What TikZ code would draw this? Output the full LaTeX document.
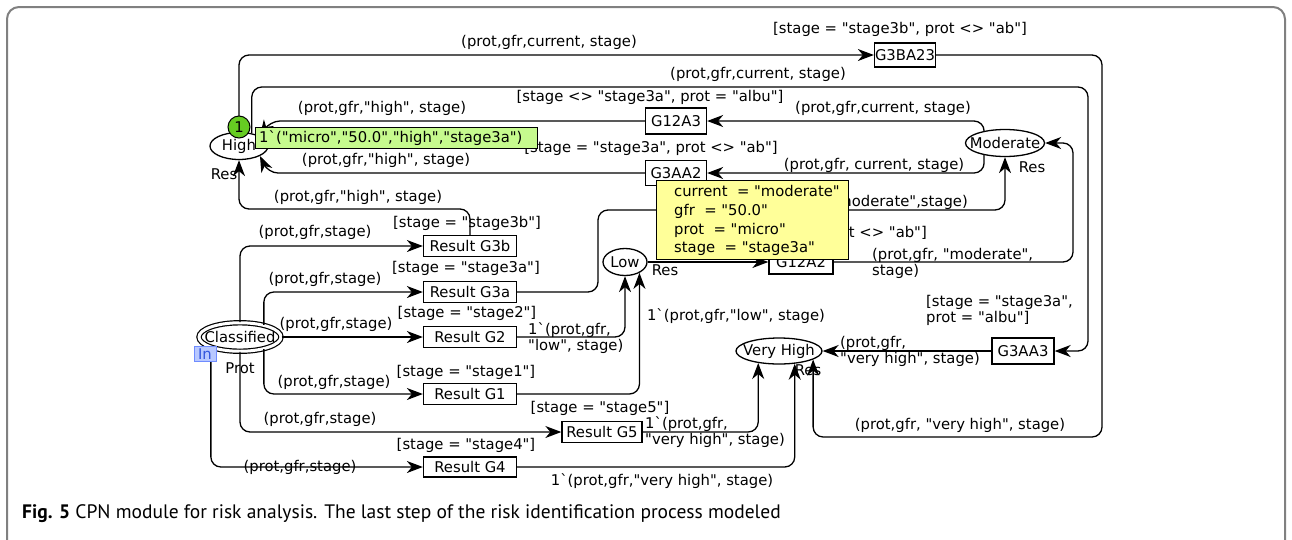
\documentclass[tikz,border=0pt]{standalone}
\usepackage{fontspec}
\setmainfont{DejaVu Sans}
\newfontfamily\lab{DejaVu Sans}[Ligatures=TeXOff]
\newfontfamily\capfont{PT Sans}
\usetikzlibrary{shapes.geometric,arrows.meta}
\definecolor{tokbox}{HTML}{C6FA8E}
\definecolor{tokcirc}{HTML}{66CC22}
\definecolor{bindy}{HTML}{FFFF99}
\definecolor{infill}{HTML}{B8C8FF}
\definecolor{indraw}{HTML}{6F8CFF}
\definecolor{intext}{HTML}{3355DD}
\definecolor{framec}{HTML}{808080}
\newcommand\lbf{\lab\fontsize{14.8}{16.5}\selectfont}
\tikzset{
  every label/.style={font=\lbf,inner sep=0pt},
  place/.style={ellipse,draw,line width=1.3pt,inner sep=0pt,font=\lbf},
  trans/.style={rectangle,draw,line width=1.3pt,inner sep=0pt,font=\lbf,fill=white},
  arc/.style={draw,line width=1.3pt,rounded corners=10pt,-{Stealth[length=16pt,width=12pt,inset=5pt]}},
  lbl/.style={inner sep=0pt,font=\lbf,align=left},
}
\begin{document}
\begin{tikzpicture}[x=1pt,y=-1pt]
\useasboundingbox (0,0) rectangle (1292,539);
\draw[framec,line width=2pt,rounded corners=12pt] (7,600) -- (7,7) -- (1285,7) -- (1285,600);

% places
\node[place,minimum width=58pt,minimum height=27pt,label={center:High}] (High) at (239,146) {};
\node[place,minimum width=79pt,minimum height=27pt,label={center:Moderate}] (Mod) at (1005,143) {};
\node[place,minimum width=44pt,minimum height=27pt,label={center:Low}] (Low) at (625,262) {};
\node[place,minimum width=86pt,minimum height=26pt,label={center:Very High}] (VH) at (779,351) {};
\node[place,double,double distance=3pt,line width=1.2pt,minimum width=82pt,minimum height=28.5pt,label={center:Classified}] (Cls) at (240,337) {};

% transitions
\node[trans,minimum width=61pt,minimum height=24pt] (tG3BA23) at (905,55) {G3BA23};
\node[trans,minimum width=61pt,minimum height=26pt] (tG12A3) at (676,121) {G12A3};
\node[trans,minimum width=61pt,minimum height=25pt] (tG3AA2) at (676,173) {G3AA2};
\node[trans,minimum width=64pt,minimum height=24pt] (tG12A2) at (801,262) {G12A2};
\node[trans,minimum width=62pt,minimum height=26pt] (tG3AA3) at (1023,351) {G3AA3};
\node[trans,minimum width=93pt,minimum height=21pt] (rG3b) at (470,246) {Result G3b};
\node[trans,minimum width=93pt,minimum height=21pt] (rG3a) at (470,292) {Result G3a};
\node[trans,minimum width=93pt,minimum height=21pt] (rG2) at (470,337) {Result G2};
\node[trans,minimum width=93pt,minimum height=21pt] (rG1) at (470,394) {Result G1};
\node[trans,minimum width=80pt,minimum height=21pt] (rG5) at (602,432) {Result G5};
\node[trans,minimum width=93pt,minimum height=20pt] (rG4) at (470,467) {Result G4};

% arcs
\draw[arc] (High.north) |- (tG3BA23.west);
\draw[arc] (High.45) |- (1088,87) |- (tG3AA3.east);
\draw[arc] (Mod.150) |- (tG12A3.east);
\draw[arc] (Mod.210) |- (tG3AA2.east);
\draw[arc] (tG12A3.west) -- (270,121) -- (High.north east);
\draw[arc] (tG3AA2.west) -- (268,173) -- (High.south east);
\draw[arc] (rG3b.north) |- (239,209) -- (High.south);
\draw[arc] (Cls.north) |- (rG3b.west);
\draw[arc] (Cls.27) |- (rG3a.west);
\draw[arc] (Cls.east) -- (rG2.west);
\draw[arc] (Cls.-27) |- (rG1.west);
\draw[arc] (Cls.south) |- (rG5.west);
\draw[arc] (Cls.200) |- (rG4.west);
\draw[arc] (rG3a.east) -| (598,210) -| (Mod.south);
\draw[arc] (rG2.east) -| (Low.south);
\draw[arc] (rG1.east) -| (Low.-37);
\draw[arc] (Low.east) -- (tG12A2.west);
\draw[arc] (tG12A2.east) -- (1073,262) |- (Mod.east);
\draw[arc] (tG3BA23.east) -- (1102,55) -- (1102,437) -| (VH.-14);
\draw[arc] (tG3AA3.west) -- (VH.east);
\draw[arc] (rG5.east) -| (VH.-150);
\draw[arc] (rG4.east) -| (VH.-39);

% labels
\node[lbl] (l1) at (549,42) {(prot,gfr,current, stage)};
\node[lbl] (g1) at (900,29) {[stage = "stage3b", prot <> "ab"]};
\node[lbl] (l2) at (758,74) {(prot,gfr,current, stage)};
\node[lbl] (g2) at (650,97) {[stage <> "stage3a", prot = "albu"]};
\node[lbl] (l3) at (382,108) {(prot,gfr,"high", stage)};
\node[lbl] (l4) at (883,108) {(prot,gfr,current, stage)};
\node[lbl] (g3) at (651,148) {[stage = "stage3a", prot <> "ab"]};
\node[lbl] (l5) at (386,160) {(prot,gfr,"high", stage)};
\node[lbl] (l6) at (874,165) {(prot,gfr, current, stage)};
\node[lbl] (r1) at (224,174) {Res};
\node[lbl] (r2) at (1032,167) {Res};
\node[lbl] (l7) at (358,197) {(prot,gfr,"high", stage)};
\node[lbl,anchor=east] (l8) at (968,202) {(prot,gfr,"moderate",stage)};
\node[lbl] (g4) at (467,223) {[stage = "stage3b"]};
\node[lbl] (l9) at (315,232) {(prot,gfr,stage)};
\node[lbl,anchor=east] (g5) at (927,233) {[stage <> "stage3a", prot <> "ab"]};
\node[lbl,anchor=north west] (l10) at (872,248) {(prot,gfr, "moderate",\\stage)};
\node[lbl] (g6) at (466,268) {[stage = "stage3a"]};
\node[lbl] (r3) at (665,270) {Res};
\node[lbl] (l11) at (325,279) {(prot,gfr,stage)};
\node[lbl,anchor=north west] (g7) at (926,295) {[stage = "stage3a",\\prot = "albu"]};
\node[lbl] (g8) at (467,313) {[stage = "stage2"]};
\node[lbl] (l12) at (736,316) {1`(prot,gfr,"low", stage)};
\node[lbl] (l13) at (336,324) {(prot,gfr,stage)};
\node[lbl,anchor=north west] (l14) at (528,322) {1`(prot,gfr,\\"low", stage)};
\node[lbl,anchor=north west] (l15) at (840,336) {(prot,gfr,\\"very high", stage)};
\node[lbl] (r4) at (240,368) {Prot};
\node[lbl] (r5) at (808,370) {Res};
\node[lbl] (g9) at (466,372) {[stage = "stage1"]};
\node[lbl] (l16) at (334,382) {(prot,gfr,stage)};
\node[lbl] (g10) at (600,408) {[stage = "stage5"]};
\node[lbl] (l17) at (320,419) {(prot,gfr,stage)};
\node[lbl,anchor=north west] (l18) at (645,416) {1`(prot,gfr,\\"very high", stage)};
\node[lbl] (l19) at (960,425) {(prot,gfr, "very high", stage)};
\node[lbl] (g11) at (466,445) {[stage = "stage4"]};
\node[lbl] (l20) at (300,467) {(prot,gfr,stage)};
\node[lbl] (l21) at (662,481) {1`(prot,gfr,"very high", stage)};

% port tag
\node[draw=indraw,fill=infill,line width=1pt,minimum width=22pt,minimum height=15pt,inner sep=0pt,font=\lbf,text=intext] (inTag) at (205,354) {In};

% token marking
\node[circle,draw,line width=1pt,fill=tokcirc,minimum size=22pt,inner sep=0pt,font=\lbf] (tok) at (239,127) {1};
\node[draw,line width=1pt,fill=tokbox,anchor=north west,minimum width=282pt,minimum height=21pt,inner sep=0pt] (mark) at (255,127) {};
\node[lbl,anchor=west] (markt) at (259,138) {1`("micro","50.0","high","stage3a")};

% binding box
\node[draw,line width=1pt,fill=bindy,anchor=north west,minimum width=192pt,minimum height=79pt,inner sep=0pt] (bind) at (656,180) {};
\node[lbl,anchor=west] (b1) at (674,191) {current~~= "moderate"};
\node[lbl,anchor=west] (b2) at (674,211) {gfr~~= "50.0"};
\node[lbl,anchor=west] (b3) at (674,230) {prot~~= "micro"};
\node[lbl,anchor=west] (b4) at (674,249) {stage~~= "stage3a"};

% caption
\node[anchor=west,inner sep=0pt,font=\capfont\fontsize{19.5}{22}\selectfont] (cap) at (22,514) {\textbf{Fig. 5} CPN module for risk analysis. The last step of the risk identification process modeled};
\end{tikzpicture}
\end{document}
